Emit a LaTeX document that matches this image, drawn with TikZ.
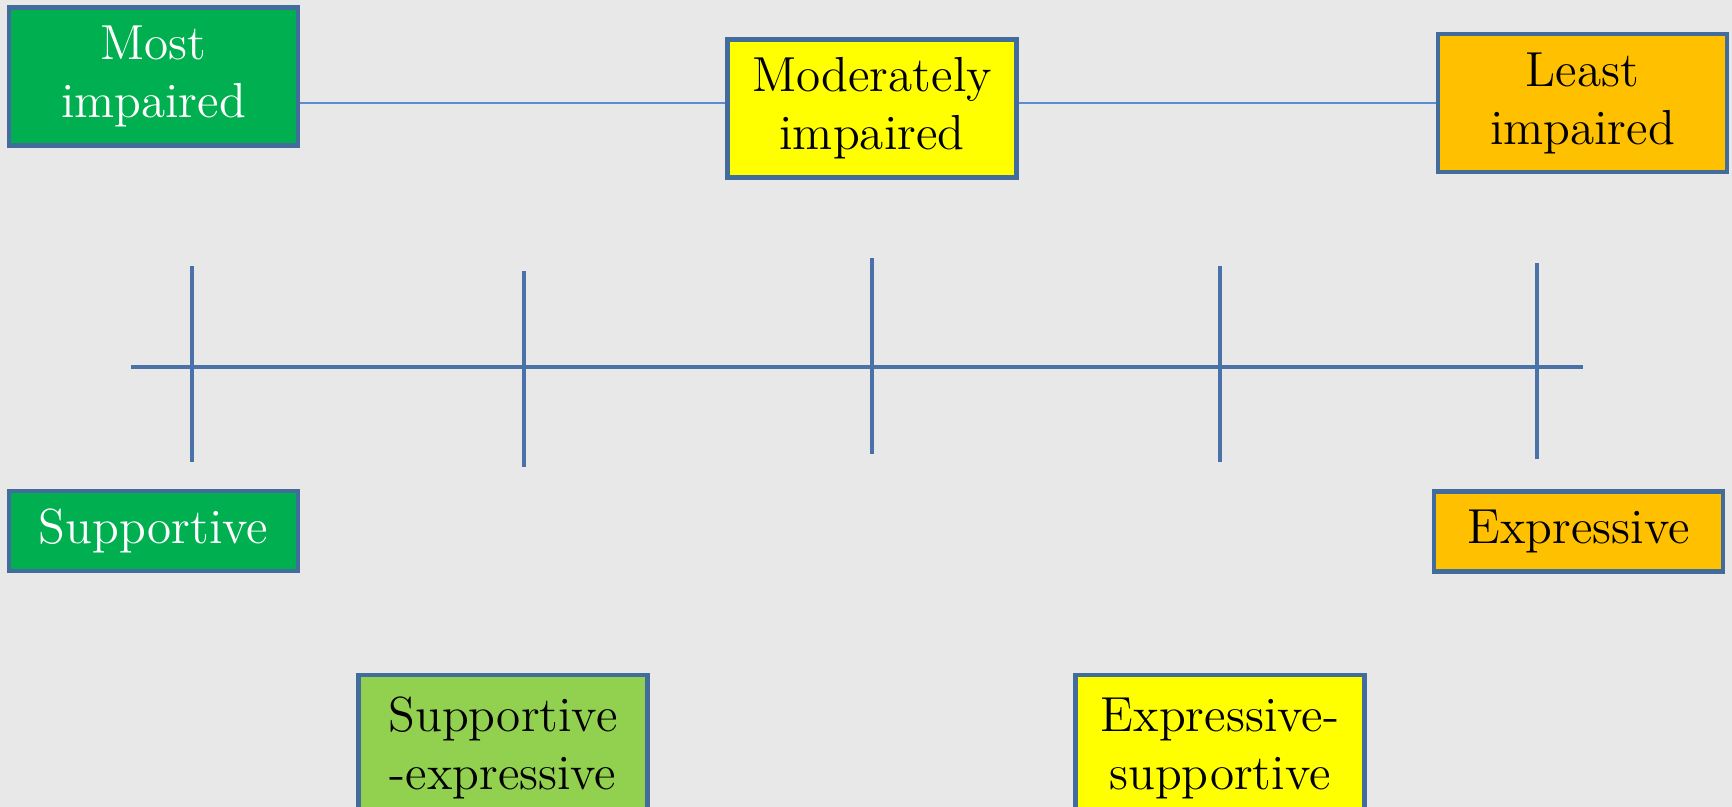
\documentclass[tikz,border=0pt]{standalone}
\usepackage{tikz}
\usetikzlibrary{positioning}
\definecolor{bgGray}{RGB}{232, 232, 232}
\definecolor{edgeBlue}{RGB}{65, 108, 155}
\definecolor{linkBlue}{RGB}{88, 142, 214}
\definecolor{axisBlue}{RGB}{74, 114, 169}
\definecolor{mostGreen}{RGB}{0, 176, 80}
\definecolor{midYellow}{RGB}{255, 255, 0}
\definecolor{leastGold}{RGB}{255, 192, 0}
\definecolor{mixGreen}{RGB}{146, 208, 80}

\begin{document}
\begin{tikzpicture}[
    x=0.01cm, y=-0.01cm,
    % Level Box Style
    levelBox/.style={
        rectangle,
        draw=edgeBlue,
        line width=1.2pt,
        minimum width=2.89cm,
        minimum height=1.38cm,
        align=center,
        inner sep=2pt,
        font=\fontsize{14}{16.5}\selectfont
    },
    % Single-line Box Style
    flatBox/.style={
        levelBox,
        minimum height=0.80cm
    },
    % Thin Link Line Style
    linkLine/.style={
        draw=linkBlue,
        line width=0.7pt
    },
    % Scale Axis Style
    axisLine/.style={
        draw=axisBlue,
        line width=1pt
    }
]

    % Background and page size
    \fill[bgGray] (0,0) rectangle (1732,807);
    \useasboundingbox (0,0) rectangle (1732,807);

    % Impairment level boxes (top row)
    \node[levelBox, fill=mostGreen, text=white] (most) at (153.5,76.5) {Most\\impaired};
    \node[levelBox, fill=midYellow] (moderate) at (872,108.5) {Moderately\\impaired};
    \node[levelBox, fill=leastGold] (least) at (1582.5,103) {Least\\impaired};

    % Links between the levels
    \draw[linkLine] (most.east |- least.west) -- (moderate.west |- least.west);
    \draw[linkLine] (moderate.east |- least.west) -- (least.west);

    % Scale axis with tick marks
    \draw[axisLine] (131,367) -- (1583,367);
    \foreach \tx/\ttop/\tbot in {192/266/462, 524/271/467, 872/258/454, 1220/266/462, 1537/263/459}
        \draw[axisLine] (\tx,\ttop) -- (\tx,\tbot);

    % Therapy style boxes
    \node[flatBox, fill=mostGreen, text=white] (supp) at (153.5,531) {Supportive};
    \node[flatBox, fill=leastGold] (expr) at (1578.5,531.5) {Expressive};

    % Mixed styles (cut by the lower edge)
    \node[levelBox, fill=mixGreen, anchor=north, minimum height=1.46cm] (suppExpr) at (503,673) {Supportive\\-expressive};
    \node[levelBox, fill=midYellow, anchor=north, minimum height=1.46cm] (exprSupp) at (1220,673) {Expressive-\\supportive};

\end{tikzpicture}
\end{document}
